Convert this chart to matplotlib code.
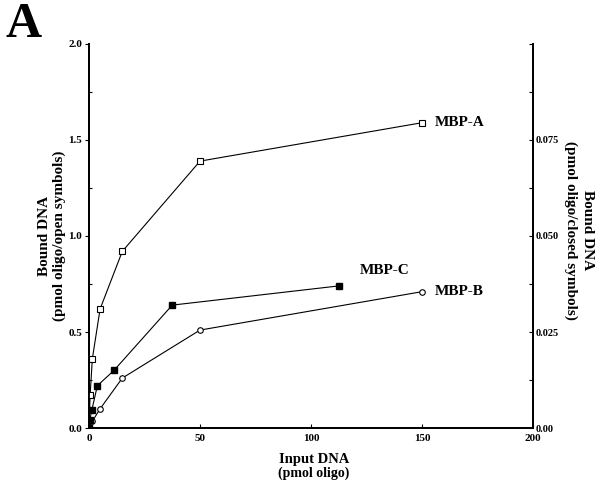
import matplotlib
matplotlib.use("Agg")
import matplotlib.pyplot as plt
from matplotlib.ticker import MultipleLocator, FormatStrFormatter, FuncFormatter

plt.rcParams['font.family'] = ['Liberation Serif', 'DejaVu Serif']
plt.rcParams['font.weight'] = 'bold'

# Data (open symbols, left axis)
mbp_a_x = [0, 0.5, 1.5, 5, 15, 50, 150]
mbp_a_y = [0, 0.17, 0.36, 0.62, 0.92, 1.39, 1.59]
mbp_b_x = [0, 1.5, 5, 15, 50, 150]
mbp_b_y = [0, 0.035, 0.10, 0.26, 0.51, 0.71]
# Closed symbols (right axis)
mbp_c_x = [0, 0.4, 1.25, 3.75, 11.25, 37.5, 112.5]
mbp_c_y = [0, 0.0022, 0.0046, 0.011, 0.015, 0.032, 0.037]

fig = plt.figure(figsize=(6.01, 4.84), dpi=100)
ax = fig.add_axes([89/601, 56/484, (533-89)/601, (428-44)/484])
ax2 = ax.twinx()

ax.plot(mbp_a_x, mbp_a_y, '-', color='black', lw=0.8, marker='s', ms=4.5,
        mfc='white', mec='black', mew=0.8, zorder=3)
ax.plot(mbp_b_x, mbp_b_y, '-', color='black', lw=0.8, marker='o', ms=4,
        mfc='white', mec='black', mew=0.8, zorder=3)
ax2.plot(mbp_c_x, mbp_c_y, '-', color='black', lw=0.8, marker='s', ms=4.5,
         mfc='black', mec='black', zorder=3)

ax.set_xlim(0, 200)
ax.set_ylim(0, 2.0)
ax2.set_ylim(0, 0.1)

ax.xaxis.set_major_locator(MultipleLocator(50))
ax.yaxis.set_major_locator(MultipleLocator(0.5))
ax.yaxis.set_minor_locator(MultipleLocator(0.25))
ax.yaxis.set_major_formatter(FormatStrFormatter('%.1f'))
ax2.yaxis.set_major_locator(MultipleLocator(0.025))
ax2.yaxis.set_minor_locator(MultipleLocator(0.0125))


def fmt_right(v, pos):
    if abs(v) < 1e-9:
        return '0.00'
    if abs(v - 0.1) < 1e-9:
        return ''
    return '%.3f' % v


ax2.yaxis.set_major_formatter(FuncFormatter(fmt_right))

for a in (ax, ax2):
    for s in a.spines.values():
        s.set_linewidth(1.3)

ax.spines['top'].set_visible(False)
ax2.spines['top'].set_visible(False)
ax.tick_params(axis='x', direction='in', length=3, width=0.8, labelsize=8, pad=4)
ax.tick_params(axis='y', which='major', direction='out', length=3, width=0.8, labelsize=8, pad=2)
ax.tick_params(axis='y', which='minor', direction='in', length=2.5, width=0.8)
ax2.tick_params(axis='y', which='both', direction='in', length=3, width=0.8, labelsize=7.5, pad=2)
for a in (ax, ax2):
    for lab in a.get_xticklabels() + a.get_yticklabels():
        lab.set_fontweight('bold')

# axis labels
fig.text(44/601, 1 - 236/484, 'Bound DNA', rotation=90, ha='center', va='center',
         fontsize=11, fontweight='bold')
fig.text(59/601, 1 - 236/484, '(pmol oligo/open symbols)', rotation=90, ha='center',
         va='center', fontsize=11, fontweight='bold')
fig.text(587/601, 1 - 230/484, 'Bound DNA', rotation=-90, ha='center', va='center',
         fontsize=11, fontweight='bold')
fig.text(571/601, 1 - 230/484, '(pmol oligo/closed symbols)', rotation=-90, ha='center',
         va='center', fontsize=11, fontweight='bold')
fig.text(314/601, 1 - 459/484, 'Input DNA', ha='center', va='center',
         fontsize=10.5, fontweight='bold')
fig.text(314/601, 1 - 473/484, '(pmol oligo)', ha='center', va='center',
         fontsize=10, fontweight='bold')

# series labels
ax.annotate('MBP-A', xy=(mbp_a_x[-1], mbp_a_y[-1]), xytext=(9, 0),
            textcoords='offset points', va='center', ha='left', fontsize=11, fontweight='bold')
ax.annotate('MBP-B', xy=(mbp_b_x[-1], mbp_b_y[-1]), xytext=(9, 0),
            textcoords='offset points', va='center', ha='left', fontsize=11, fontweight='bold')
ax2.annotate('MBP-C', xy=(mbp_c_x[-1], mbp_c_y[-1]), xytext=(15, 11),
             textcoords='offset points', va='center', ha='left', fontsize=11, fontweight='bold')

fig.text(5/601, 1 - 25/484, 'A', ha='left', va='center', fontsize=36, fontweight='bold')

fig.savefig('out.png', dpi=100)
